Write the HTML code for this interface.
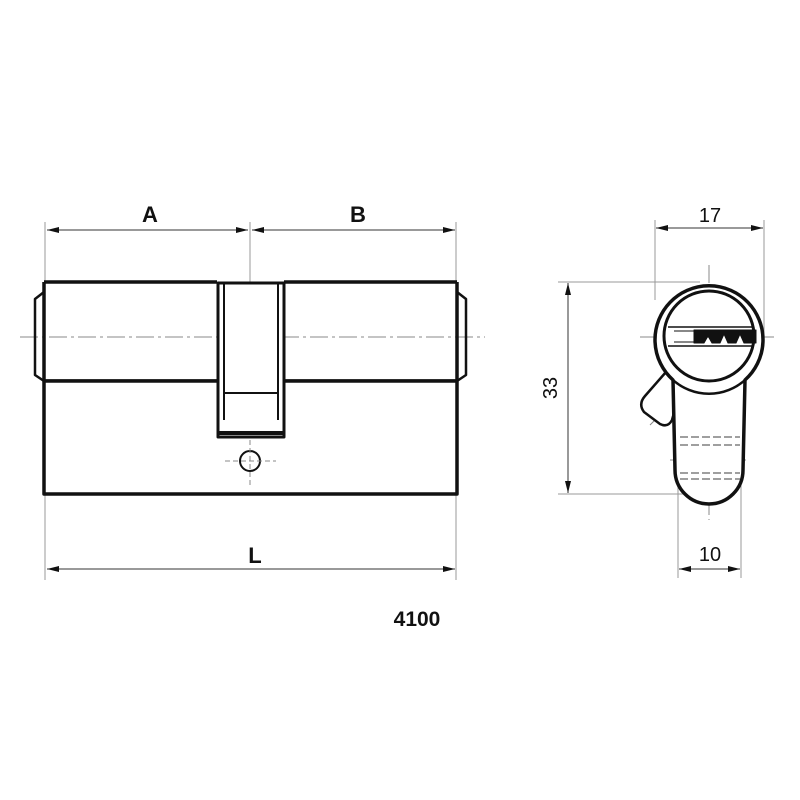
<!DOCTYPE html>
<html><head><style>html,body{margin:0;padding:0;background:#fff}svg{display:block}</style></head>
<body>
<svg width="800" height="800" viewBox="0 0 800 800" xmlns="http://www.w3.org/2000/svg">
<defs>
<marker id="ar" viewBox="0 0 12 6" refX="12" refY="3" markerWidth="12" markerHeight="6" markerUnits="userSpaceOnUse" orient="auto-start-reverse"><path d="M0,0 L12,3 L0,6 z" fill="#111"/></marker>
</defs>
<g font-family="Liberation Sans, sans-serif" fill="#111">
<text x="150" y="222" font-size="22" font-weight="bold" text-anchor="middle">A</text>
<text x="358" y="222" font-size="22" font-weight="bold" text-anchor="middle">B</text>
<text x="255" y="563" font-size="22" font-weight="bold" text-anchor="middle">L</text>
<text x="417" y="626" font-size="21" font-weight="bold" text-anchor="middle">4100</text>
<text x="710" y="222" font-size="20" text-anchor="middle">17</text>
<text x="710" y="561" font-size="20" text-anchor="middle">10</text>
<text x="0" y="0" font-size="20" text-anchor="middle" transform="translate(557,388) rotate(-90)">33</text>
</g>
<g stroke="#999" stroke-width="1" fill="none">
<line x1="45" y1="222" x2="45" y2="580"/>
<line x1="456" y1="222" x2="456" y2="580"/>
<line x1="250" y1="222" x2="250" y2="282"/>
<line x1="655" y1="220" x2="655" y2="300"/>
<line x1="764" y1="220" x2="764" y2="340"/>
<line x1="678" y1="470" x2="678" y2="578"/>
<line x1="741" y1="470" x2="741" y2="578"/>
<line x1="558" y1="282" x2="700" y2="282"/>
<line x1="558" y1="494" x2="700" y2="494"/>
</g>
<g stroke="#333" stroke-width="1" fill="none">
<line x1="47" y1="230" x2="248" y2="230" marker-start="url(#ar)" marker-end="url(#ar)"/>
<line x1="252" y1="230" x2="455" y2="230" marker-start="url(#ar)" marker-end="url(#ar)"/>
<line x1="47" y1="569" x2="455" y2="569" marker-start="url(#ar)" marker-end="url(#ar)"/>
<line x1="656" y1="228" x2="763" y2="228" marker-start="url(#ar)" marker-end="url(#ar)"/>
<line x1="679" y1="569" x2="740" y2="569" marker-start="url(#ar)" marker-end="url(#ar)"/>
<line x1="568" y1="283" x2="568" y2="493" marker-start="url(#ar)" marker-end="url(#ar)"/>
</g>
<g stroke="#888" stroke-width="1" fill="none" stroke-dasharray="18,4,3,4">
<line x1="20" y1="337" x2="485" y2="337"/>
<line x1="640" y1="337" x2="775" y2="337"/>
<line x1="709" y1="265" x2="709" y2="520"/>
<line x1="670" y1="460" x2="750" y2="460"/>
<line x1="650" y1="425" x2="675" y2="400"/>
</g>
<g stroke="#111" stroke-width="3.5" fill="none" stroke-linejoin="round">
<path d="M44,282 L217,282 M284,282 L457,282"/>
<path d="M44,381 L217,381 M284,381 L457,381"/>
<rect x="44" y="381" width="413" height="113" fill="#fff"/>
<line x1="44" y1="282" x2="44" y2="381"/>
<line x1="457" y1="282" x2="457" y2="381"/>
<path d="M44,292 L35,299 L35,375 L44,381" stroke-width="2.5"/>
<path d="M457,292 L466,299 L466,375 L457,381" stroke-width="2.5"/>
<rect x="218" y="283" width="66" height="154" fill="#fff" stroke-width="3"/>
<line x1="224" y1="284" x2="224" y2="420" stroke-width="2"/>
<line x1="278" y1="284" x2="278" y2="420" stroke-width="2"/>
<line x1="225" y1="393" x2="277" y2="393" stroke-width="2"/>
<line x1="219" y1="433" x2="283" y2="433" stroke-width="4"/>
<circle cx="250" cy="461" r="10" stroke-width="2"/>
</g>
<g stroke="#888" stroke-width="1"><line x1="225" y1="461" x2="276" y2="461" stroke-dasharray="5,3"/><line x1="250" y1="440" x2="250" y2="486" stroke-dasharray="5,3"/></g>
<g stroke="#111" fill="none" stroke-linejoin="round">
<path d="M666,372 L645,396 Q638,404 644,412 L660,424 Q668,428 672,420 L677,402" fill="#fff" stroke-width="2.5"/>
<path d="M673,380 A54,54 0 1 1 745,380 L743,470 A34,34 0 0 1 675,470 Z" stroke-width="3.5" fill="#fff"/>
<circle cx="709" cy="336" r="45" stroke-width="3"/>
<path d="M673,380 A54,54 0 0 0 745,380" stroke-width="2.5"/>
<line x1="668" y1="327" x2="752" y2="327" stroke-width="1.5"/>
<line x1="668" y1="346" x2="752" y2="346" stroke-width="1.5"/>
<line x1="674" y1="331" x2="700" y2="331" stroke-width="1"/>
<line x1="674" y1="342" x2="700" y2="342" stroke-width="1"/>
<path d="M694,330 L756,330 L756,343 L744,343 L740,334 L736,343 L728,343 L724,334 L720,343 L712,343 L708,336 L704,343 L694,343 Z" fill="#111" stroke-width="1"/>
</g>
<g stroke="#666" stroke-width="1.2" stroke-dasharray="8,3">
<line x1="680" y1="437" x2="740" y2="437"/><line x1="680" y1="445" x2="740" y2="445"/>
<line x1="680" y1="473" x2="740" y2="473"/><line x1="680" y1="479" x2="740" y2="479"/>
</g>
</svg>
</body></html>
